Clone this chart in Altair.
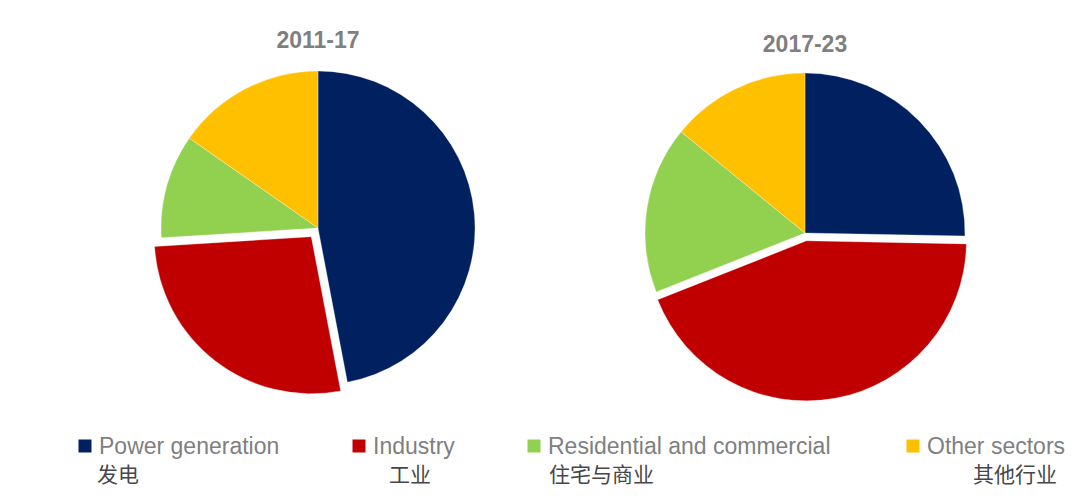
import altair as alt
import pandas as pd

# ---- data ----
periods = ["2011-17", "2017-23"]
sectors = ["Power generation", "Industry", "Residential and commercial", "Other sectors"]
sectors_cn = ["发电", "工业", "住宅与商业", "其他行业"]
share_2011_17 = [47.0, 27.0, 10.7, 15.3]
share_2017_23 = [25.3, 43.7, 16.9, 14.1]
colors = ["#002060", "#C00000", "#92D050", "#FFC000"]
exploded = "Industry"

# ---- layout (pixels) ----
W, H = 1080, 502
pie_cx = {"2011-17": 318, "2017-23": 805}
pie_cy = {"2011-17": 228, "2017-23": 233}
pie_r = {"2011-17": 157, "2017-23": 160}
pie_explode = {"2011-17": 11, "2017-23": 8}
title_y = {"2011-17": 48, "2017-23": 52}
legend_sq_x = [85, 359, 534, 913]
legend_cn_x = [97, 410, 549, 1057]
legend_cn_align = ["left", "center", "left", "right"]

rows = []
for p, vals in zip(periods, [share_2011_17, share_2017_23]):
    for i, (s, v) in enumerate(zip(sectors, vals)):
        rows.append({"period": p, "sector": s, "order": i, "value": v,
                     "cx0": pie_cx[p], "cy0": pie_cy[p], "r": pie_r[p],
                     "ex": pie_explode[p] if s == exploded else 0})
df = pd.DataFrame(rows)

color_scale = alt.Scale(domain=sectors, range=colors)

arcs = (
    alt.Chart(df)
    .transform_window(cum="sum(value)", groupby=["period"], sort=[{"field": "order"}], frame=[None, 0])
    .transform_joinaggregate(total="sum(value)", groupby=["period"])
    .transform_calculate(
        t1="2*PI*datum.cum/datum.total",
        t0="2*PI*(datum.cum-datum.value)/datum.total",
    )
    .transform_calculate(mid="(datum.t0+datum.t1)/2")
    .transform_calculate(
        cx="datum.cx0 + datum.ex*sin(datum.mid)",
        cy="datum.cy0 - datum.ex*cos(datum.mid)",
    )
    .mark_arc(stroke="white", strokeWidth=0.3)
    .encode(
        x=alt.X("cx:Q", scale=None, axis=None),
        y=alt.Y("cy:Q", scale=None, axis=None),
        theta=alt.Theta("t0:Q", scale=None),
        theta2=alt.Theta2("t1:Q"),
        radius=alt.Radius("r:Q", scale=None),
        color=alt.Color("sector:N", scale=color_scale, legend=None),
    )
)

tdf = pd.DataFrame({"period": periods,
                    "tx": [pie_cx[p] for p in periods],
                    "ty": [title_y[p] for p in periods]})
titles = (
    alt.Chart(tdf)
    .mark_text(font="Liberation Sans", fontWeight="bold", fontSize=23, color="#7F7F7F",
               align="center", baseline="alphabetic")
    .encode(x=alt.X("tx:Q", scale=None, axis=None), y=alt.Y("ty:Q", scale=None, axis=None),
            text="period:N")
)

ldf = pd.DataFrame({"sector": sectors, "cn": sectors_cn, "sqx": legend_sq_x,
                    "cnx": legend_cn_x, "align": legend_cn_align})

squares = (
    alt.Chart(ldf)
    .mark_square(size=169, opacity=1)
    .encode(x=alt.X("sqx:Q", scale=None, axis=None), y=alt.value(446),
            color=alt.Color("sector:N", scale=color_scale, legend=None))
)
eng = (
    alt.Chart(ldf)
    .mark_text(font="Liberation Sans", fontSize=23, color="#7F7F7F", align="left",
               baseline="alphabetic", dx=14)
    .encode(x=alt.X("sqx:Q", scale=None, axis=None), y=alt.value(454), text="sector:N")
)
cn_layers = []
for a in ["left", "center", "right"]:
    cn_layers.append(
        alt.Chart(ldf)
        .transform_filter(alt.datum.align == a)
        .mark_text(font="Noto Sans CJK SC", fontSize=21, color="#474747", align=a,
                   baseline="alphabetic")
        .encode(x=alt.X("cnx:Q", scale=None, axis=None), y=alt.value(482), text="cn:N")
    )

chart = (
    alt.layer(arcs, titles, squares, eng, *cn_layers)
    .properties(width=W, height=H, autosize=alt.AutoSizeParams(type="none"),
                padding=0, background="white")
    .configure_view(stroke=None)
)

chart.save("out.html", embed_options={"renderer": "svg", "actions": False})
